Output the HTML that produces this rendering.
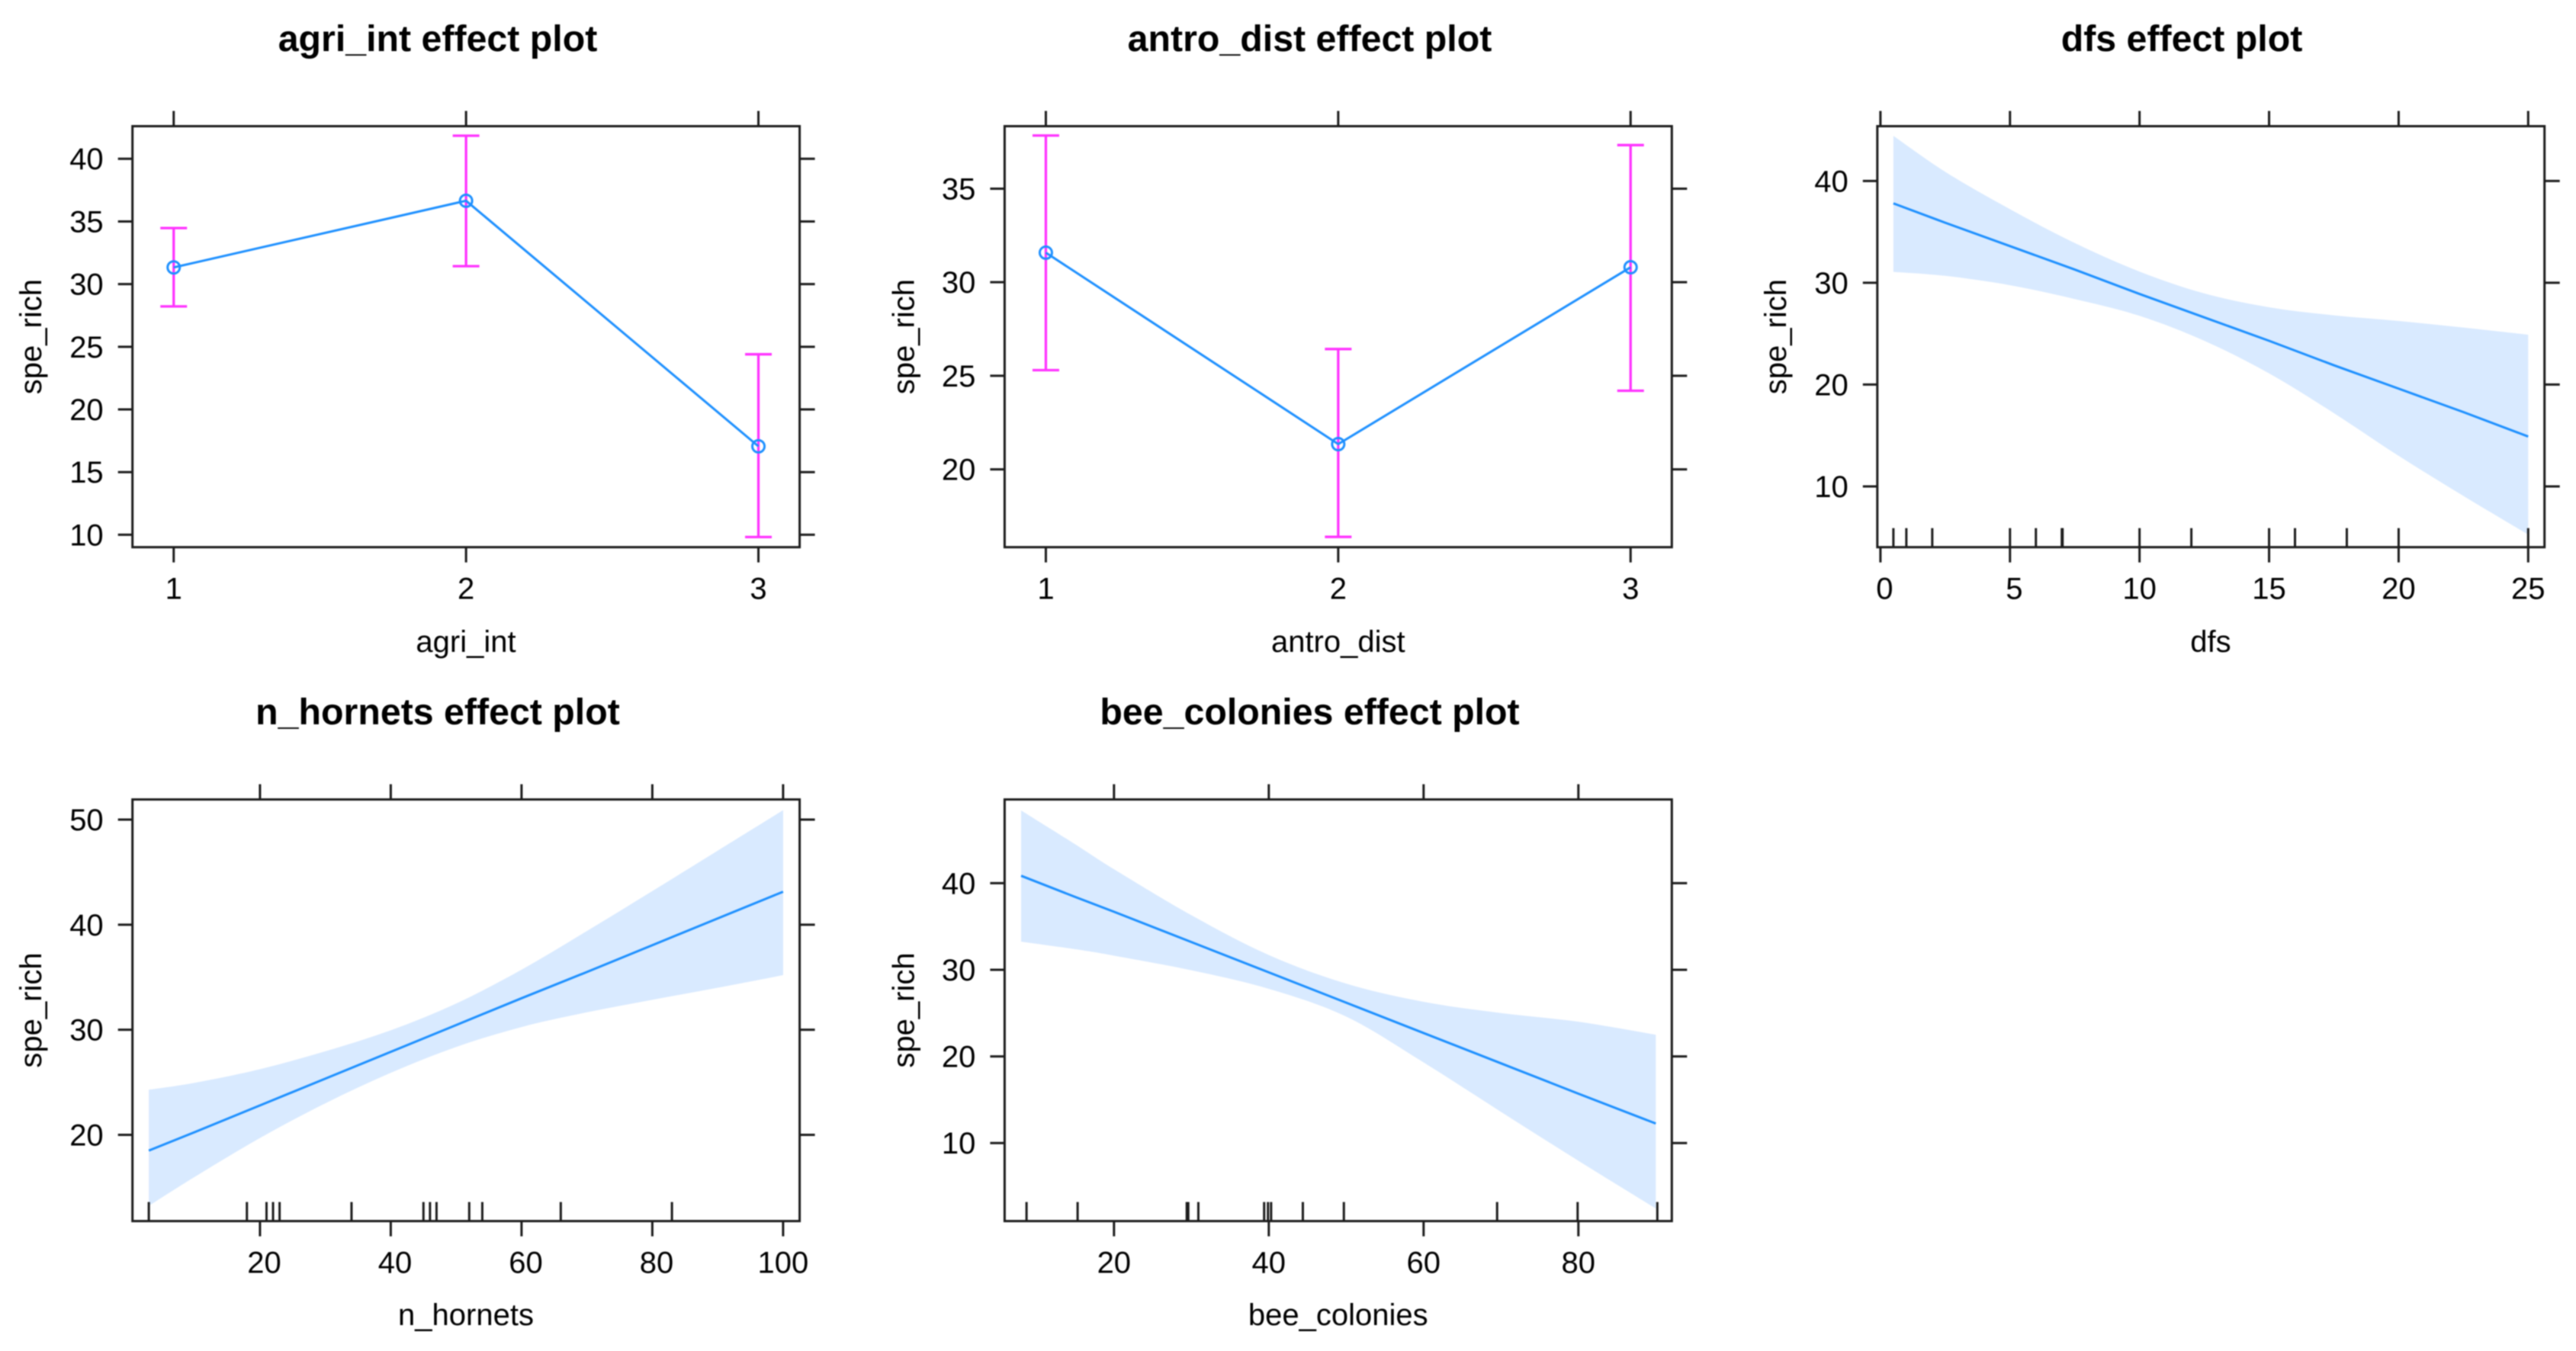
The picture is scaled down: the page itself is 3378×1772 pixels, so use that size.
<!DOCTYPE html>
<html lang="en">
<head>
<meta charset="utf-8">
<title>spe_rich effect plots</title>
<style>
  html, body { margin: 0; padding: 0; background: #ffffff; }
  body { width: 3378px; height: 1772px; overflow: hidden; }
  #chart { display: block; filter: blur(0.7px); }
  #chart text { font-family: "Liberation Sans", sans-serif; font-size: 40px; fill: #000000; white-space: pre; }
  #chart text.title { font-weight: bold; font-size: 48.3px; text-anchor: middle; }
  #chart text.xtitle { text-anchor: middle; }
  #chart text.ytitle { text-anchor: middle; }
</style>
</head>
<body>
<svg id="chart" xmlns="http://www.w3.org/2000/svg" width="3378" height="1772" viewBox="0 0 3378 1772">
  <rect x="0" y="0" width="3378" height="1772" fill="#ffffff"/>

  <g id="panel-agri">
    <text class="title" x="574" y="67">agri_int effect plot</text>
    <text class="xtitle" x="611" y="855">agri_int</text>
    <text class="ytitle" transform="translate(54 441.6) rotate(-90)">spe_rich</text>
  </g>
  <g id="panel-antro">
    <text class="title" x="1717.5" y="67">antro_dist effect plot</text>
    <text class="xtitle" x="1754.8" y="855">antro_dist</text>
    <text class="ytitle" transform="translate(1198.5 441.6) rotate(-90)">spe_rich</text>
  </g>
  <g id="panel-dfs">
    <text class="title" x="2861" y="67">dfs effect plot</text>
    <text class="xtitle" x="2898.9" y="855">dfs</text>
    <text class="ytitle" transform="translate(2342 441.6) rotate(-90)">spe_rich</text>
  </g>
  <g id="panel-hornets">
    <text class="title" x="574" y="950">n_hornets effect plot</text>
    <text class="xtitle" x="611" y="1738">n_hornets</text>
    <text class="ytitle" transform="translate(54 1325) rotate(-90)">spe_rich</text>
  </g>
  <g id="panel-bees">
    <text class="title" x="1717.5" y="950">bee_colonies effect plot</text>
    <text class="xtitle" x="1754.8" y="1738">bee_colonies</text>
    <text class="ytitle" transform="translate(1198.5 1325) rotate(-90)">spe_rich</text>
  </g>
</svg>

<script>
/* ---------- agri_int ---------- */
const agriLevels = [1, 2, 3];
const agriFit = [31.33, 36.65, 17.06];
const agriUpper = [34.47, 41.84, 24.4];
const agriLower = [28.22, 31.43, 9.82];
const agriXTicks = [1, 2, 3];
const agriXLabels = ['1', '2', '3'];
const agriYTicks = [10, 15, 20, 25, 30, 35, 40];
const agriYLabels = ['10', '15', '20', '25', '30', '35', '40'];

/* ---------- antro_dist ---------- */
const antroLevels = [1, 2, 3];
const antroFit = [31.58, 21.35, 30.8];
const antroUpper = [37.84, 26.43, 37.33];
const antroLower = [25.3, 16.39, 24.2];
const antroXTicks = [1, 2, 3];
const antroXLabels = ['1', '2', '3'];
const antroYTicks = [20, 25, 30, 35];
const antroYLabels = ['20', '25', '30', '35'];

/* ---------- dfs ---------- */
const dfsGrid = [0.5, 2.5, 5, 7.5, 10, 12.5, 15, 17.5, 20, 22.5, 25];
const dfsFit = [37.8, 35.9, 33.6, 31.3, 28.9, 26.6, 24.3, 21.9, 19.6, 17.3, 14.9];
const dfsUpper = [44.43, 40.9, 37.23, 33.9, 31.1, 28.95, 27.6, 26.8, 26.25, 25.6, 24.9];
const dfsLower = [31.07, 30.68, 29.76, 28.4, 26.75, 24.3, 21.1, 17.2, 13.0, 9.06, 5.27];
const dfsRug = [0.5, 1, 2, 5, 6, 7, 7.03, 10, 12, 15, 16, 18, 20, 25];
const dfsXTicks = [0, 5, 10, 15, 20, 25];
const dfsXLabels = [' 0', ' 5', '10', '15', '20', '25'];
const dfsYTicks = [10, 20, 30, 40];
const dfsYLabels = ['10', '20', '30', '40'];

/* ---------- n_hornets ---------- */
const hornetsGrid = [3, 10, 20, 30, 40, 50, 60, 70, 80, 90, 100];
const hornetsFit = [18.5, 20.25, 22.8, 25.35, 27.9, 30.45, 33.0, 35.5, 38.05, 40.6, 43.14];
const hornetsUpper = [24.29, 24.95, 26.25, 27.95, 29.95, 32.5, 35.72, 39.4, 43.2, 47.05, 50.9];
const hornetsLower = [13.24, 15.99, 19.7, 23.0, 25.9, 28.36, 30.26, 31.66, 32.85, 34.0, 35.2];
const hornetsRug = [3, 18, 21, 22, 23, 34, 45, 46, 47, 52, 54, 66, 83];
const hornetsXTicks = [20, 40, 60, 80, 100];
const hornetsXLabels = [' 20', ' 40', ' 60', ' 80', '100'];
const hornetsYTicks = [20, 30, 40, 50];
const hornetsYLabels = ['20', '30', '40', '50'];

/* ---------- bee_colonies ---------- */
const beesGrid = [8, 15, 20, 30, 40, 50, 60, 70, 80, 90];
const beesFit = [40.85, 38.4, 36.7, 33.2, 29.7, 26.2, 22.7, 19.2, 15.7, 12.25];
const beesUpper = [48.39, 44.48, 41.61, 36.3, 31.7, 28.4, 26.3, 25.0, 24.0, 22.5];
const beesLower = [33.24, 32.37, 31.63, 29.94, 27.8, 24.6, 19.3, 13.6, 7.95, 2.44];
const beesRug = [8.7, 15.3, 29.4, 29.6, 30.9, 39.4, 39.9, 40.3, 44.4, 49.7, 69.5, 79.9, 90.2];
const beesXTicks = [20, 40, 60, 80];
const beesXLabels = ['20', '40', '60', '80'];
const beesYTicks = [10, 20, 30, 40];
const beesYLabels = ['10', '20', '30', '40'];

/* ---------- rendering ---------- */
const SVG_NS = 'http://www.w3.org/2000/svg';
const LINE_BLUE = '#1e90ff';
const BAND_BLUE = '#d9eaff';
const MAGENTA = '#ff33ff';
const AXIS_INK = '#1c1c1c';
const AXIS_W = 3;

function mark(parent, tag, geometry) {
  const el = document.createElementNS(SVG_NS, tag);
  for (const key in geometry) {
    el.setAttribute(key, geometry[key]);
  }
  parent.appendChild(el);
  return el;
}

function linearScale(domainMin, domainMax, pxMin, pxMax) {
  return function (v) {
    return pxMin + (v - domainMin) / (domainMax - domainMin) * (pxMax - pxMin);
  };
}

/* Catmull-Rom segments through the given points, so estimated band values join smoothly. */
function smoothSegments(pts) {
  let d = '';
  for (let i = 0; i < pts.length - 1; i++) {
    const p0 = pts[Math.max(i - 1, 0)];
    const p1 = pts[i];
    const p2 = pts[i + 1];
    const p3 = pts[Math.min(i + 2, pts.length - 1)];
    const c1x = p1[0] + (p2[0] - p0[0]) / 6;
    const c1y = p1[1] + (p2[1] - p0[1]) / 6;
    const c2x = p2[0] - (p3[0] - p1[0]) / 6;
    const c2y = p2[1] - (p3[1] - p1[1]) / 6;
    d += ' C' + c1x + ' ' + c1y + ' ' + c2x + ' ' + c2y + ' ' + p2[0] + ' ' + p2[1];
  }
  return d;
}

function drawAxes(g, p, box, sx, sy) {
  p.xTicks.forEach(function (t, i) {
    const x = sx(t);
    const bottom = mark(g, 'line', { x1: x, x2: x, y1: box.bottom, y2: box.bottom + 20, stroke: AXIS_INK, 'stroke-width': AXIS_W });
    
    
    const top = mark(g, 'line', { x1: x, x2: x, y1: box.top - 20, y2: box.top, stroke: AXIS_INK, 'stroke-width': AXIS_W });
    
    
    const label = mark(g, 'text', { x: x, y: box.bottom + 68, 'text-anchor': 'middle' });
    label.textContent = p.xLabels[i];
    
    
  });
  p.yTicks.forEach(function (t, i) {
    const y = sy(t);
    const left = mark(g, 'line', { x1: box.left - 19, x2: box.left, y1: y, y2: y, stroke: AXIS_INK, 'stroke-width': AXIS_W });
    
    
    const right = mark(g, 'line', { x1: box.right, x2: box.right + 20, y1: y, y2: y, stroke: AXIS_INK, 'stroke-width': AXIS_W });
    
    
    const label = mark(g, 'text', { x: box.left - 38, y: y + 14, 'text-anchor': 'end' });
    label.textContent = p.yLabels[i];
    
    
  });
}

function drawFrame(g, p, box) {
  const frame = mark(g, 'rect', { x: box.left, y: box.top, width: box.right - box.left, height: box.bottom - box.top, fill: 'none', stroke: AXIS_INK, 'stroke-width': AXIS_W });
  
  
}

function drawFactorPanel(p) {
  const g = document.getElementById(p.id);
  const box = p.box;
  const sx = linearScale(p.xDomain[0], p.xDomain[1], box.left, box.right);
  const sy = linearScale(p.yDomain[0], p.yDomain[1], box.bottom, box.top);
  drawAxes(g, p, box, sx, sy);
  p.x.forEach(function (v, i) {
    const x = sx(v);
    const stem = mark(g, 'line', { x1: x, x2: x, y1: sy(p.upper[i]), y2: sy(p.lower[i]), stroke: MAGENTA, 'stroke-width': 3.3 });
    
    
    const capHi = mark(g, 'line', { x1: x - 17.5, x2: x + 17.5, y1: sy(p.upper[i]), y2: sy(p.upper[i]), stroke: MAGENTA, 'stroke-width': 3.3 });
    
    
    const capLo = mark(g, 'line', { x1: x - 17.5, x2: x + 17.5, y1: sy(p.lower[i]), y2: sy(p.lower[i]), stroke: MAGENTA, 'stroke-width': 3.3 });
    
    
  });
  const pts = p.x.map(function (v, i) { return sx(v) + ',' + sy(p.fit[i]); }).join(' ');
  const line = mark(g, 'polyline', { points: pts, fill: 'none', stroke: LINE_BLUE, 'stroke-width': 3 });
  
  
  p.x.forEach(function (v, i) {
    const dot = mark(g, 'circle', { cx: sx(v), cy: sy(p.fit[i]), r: 8, fill: 'none', stroke: LINE_BLUE, 'stroke-width': 3 });
    
    
  });
  drawFrame(g, p, box);
}

function drawSmoothPanel(p) {
  const g = document.getElementById(p.id);
  const box = p.box;
  const sx = linearScale(p.xDomain[0], p.xDomain[1], box.left, box.right);
  const sy = linearScale(p.yDomain[0], p.yDomain[1], box.bottom, box.top);
  const upperPts = p.x.map(function (v, i) { return [sx(v), sy(p.upper[i])]; });
  const lowerPts = p.x.map(function (v, i) { return [sx(v), sy(p.lower[i])]; }).reverse();
  const bandPath = 'M' + upperPts[0][0] + ' ' + upperPts[0][1] + smoothSegments(upperPts) +
    ' L' + lowerPts[0][0] + ' ' + lowerPts[0][1] + smoothSegments(lowerPts) + ' Z';
  const band = mark(g, 'path', { d: bandPath, fill: BAND_BLUE, stroke: 'none' });
  
  
  const pts = p.x.map(function (v, i) { return sx(v) + ',' + sy(p.fit[i]); }).join(' ');
  const line = mark(g, 'polyline', { points: pts, fill: 'none', stroke: LINE_BLUE, 'stroke-width': 3 });
  
  
  p.rug.forEach(function (v) {
    const x = sx(v);
    const tick = mark(g, 'line', { x1: x, x2: x, y1: box.bottom - 25, y2: box.bottom, stroke: AXIS_INK, 'stroke-width': AXIS_W });
    
    
  });
  drawAxes(g, p, box, sx, sy);
  drawFrame(g, p, box);
}

drawFactorPanel({
  id: 'panel-agri', key: 'agri-int',
  box: { left: 173.7, right: 1048.6, top: 165.5, bottom: 717.7 },
  xDomain: [0.859, 3.141], yDomain: [9.01, 42.6],
  x: agriLevels, fit: agriFit, upper: agriUpper, lower: agriLower,
  xTicks: agriXTicks, xLabels: agriXLabels, yTicks: agriYTicks, yLabels: agriYLabels
});

drawFactorPanel({
  id: 'panel-antro', key: 'antro-dist',
  box: { left: 1317.4, right: 2192.3, top: 165.5, bottom: 717.7 },
  xDomain: [0.859, 3.141], yDomain: [15.84, 38.34],
  x: antroLevels, fit: antroFit, upper: antroUpper, lower: antroLower,
  xTicks: antroXTicks, xLabels: antroXLabels, yTicks: antroYTicks, yLabels: antroYLabels
});

drawSmoothPanel({
  id: 'panel-dfs', key: 'dfs',
  box: { left: 2461.8, right: 3336.7, top: 165.5, bottom: 717.7 },
  xDomain: [-0.12, 25.63], yDomain: [4.03, 45.38],
  x: dfsGrid, fit: dfsFit, upper: dfsUpper, lower: dfsLower, rug: dfsRug,
  xTicks: dfsXTicks, xLabels: dfsXLabels, yTicks: dfsYTicks, yLabels: dfsYLabels
});

drawSmoothPanel({
  id: 'panel-hornets', key: 'n-hornets',
  box: { left: 173.7, right: 1048.6, top: 1048.6, bottom: 1601.6 },
  xDomain: [0.5, 102.53], yDomain: [11.79, 51.92],
  x: hornetsGrid, fit: hornetsFit, upper: hornetsUpper, lower: hornetsLower, rug: hornetsRug,
  xTicks: hornetsXTicks, xLabels: hornetsXLabels, yTicks: hornetsYTicks, yLabels: hornetsYLabels
});

drawSmoothPanel({
  id: 'panel-bees', key: 'bee-colonies',
  box: { left: 1317.4, right: 2192.3, top: 1048.6, bottom: 1601.6 },
  xDomain: [5.87, 92.07], yDomain: [0.99, 49.66],
  x: beesGrid, fit: beesFit, upper: beesUpper, lower: beesLower, rug: beesRug,
  xTicks: beesXTicks, xLabels: beesXLabels, yTicks: beesYTicks, yLabels: beesYLabels
});
</script>
</body>
</html>
